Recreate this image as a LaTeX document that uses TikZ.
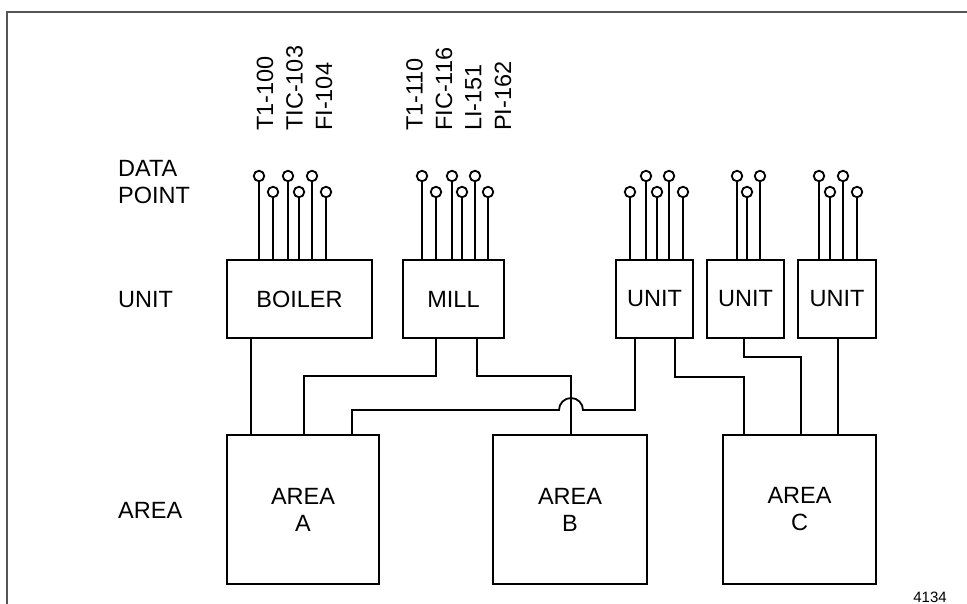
\documentclass[tikz,border=0pt]{standalone}
\usepackage{fontspec}
\setmainfont{Liberation Sans}
\usetikzlibrary{positioning,calc}
\definecolor{cInk}{HTML}{000000}
\definecolor{cFrame}{HTML}{555555}
\newcommand{\lbfont}{\fontsize{23.5}{27}\selectfont}
\tikzset{
  unitbox/.style={draw=cInk,line width=1.8pt,minimum height=78pt,inner sep=0pt,font=\lbfont},
  areabox/.style={draw=cInk,line width=1.8pt,minimum height=149pt,inner sep=0pt,align=center,font=\lbfont},
  dp/.style={circle,draw=cInk,line width=1.8pt,minimum size=10.5pt,inner sep=0pt},
  wire/.style={cInk,line width=1.8pt},
  tagtxt/.style={rotate=90,anchor=west,inner sep=0pt,font=\lbfont},
  lvl/.style={anchor=west,inner sep=0pt,align=left,font=\lbfont},
}

\begin{document}
\begin{tikzpicture}[x=1pt,y=-1pt]
  \useasboundingbox (0,0) rectangle (967,604);
  \draw[cFrame,line width=1.2pt] (967,12) -- (7,12) -- (7,604);
  % levels
  \node[lvl] (lpoint) at (118,182) {DATA\\POINT};
  \node[lvl] (lunit) at (118,300) {UNIT};
  \node[lvl] (larea) at (118,510) {AREA};
  % units
  \node[unitbox,minimum width=145pt] (boiler) at (299.5,299) {BOILER};
  \node[unitbox,minimum width=101pt] (mill) at (453.5,299) {MILL};
  \node[unitbox,minimum width=77pt] (u1) at (654.5,299) {UNIT};
  \node[unitbox,minimum width=77pt] (u2) at (745.5,299) {UNIT};
  \node[unitbox,minimum width=78pt] (u3) at (837,299) {UNIT};
  % areas
  \node[areabox,minimum width=152pt] (areaA) at (303,509.5) {AREA\\A};
  \node[areabox,minimum width=154pt] (areaB) at (570,509.5) {AREA\\B};
  \node[areabox,minimum width=153pt] (areaC) at (799.5,509.5) {AREA\\C};
  % tag names
  \foreach \x/\t [count=\i] in {265/T1-100,294.5/TIC-103,324/FI-104}
    \node[tagtxt] (tb\i) at (\x,131) {\t};
  \foreach \x/\t [count=\i] in {414.5/T1-110,444/FIC-116,473.5/LI-151,503/PI-162}
    \node[tagtxt] (tm\i) at (\x,131) {\t};
  % data points
  \foreach \bx/\pts in {boiler/{259/176,273/192,288/176,299/192,312/176,326/192},
                        mill/{422/176,436/192,452/176,462/192,475/176,488/192},
                        u1/{630/192,646/176,657/192,669/176,683/192},
                        u2/{737/176,747/192,760/176},
                        u3/{819/176,830/192,843/176,857/192}}
    \foreach \x/\y in \pts {
      \node[dp] (\bx-\x) at (\x,\y) {};
      \draw[wire] (\bx-\x.south) -- (\bx-\x.south |- \bx.north);
    }
  % links unit -> area
  \draw[wire] (boiler.south -| 251,0) -- (areaA.north -| 251,0);
  \draw[wire] (mill.south -| 436,0) -- (436,376) -- (304,376) -- (areaA.north -| 304,0);
  \draw[wire] (mill.south -| 477,0) -- (477,376) -- (571,376) -- (areaB.north -| 571,0);
  \draw[wire] (u1.south -| 635,0) -- (635,410) -- (583,410)
    arc[start angle=0,end angle=180,radius=12pt] -- (352,410) -- (areaA.north -| 352,0);
  \draw[wire] (u1.south -| 675,0) -- (675,377) -- (744,377) -- (areaC.north -| 744,0);
  \draw[wire] (u2.south -| 744,0) -- (744,357) -- (801,357) -- (areaC.north -| 801,0);
  \draw[wire] (u3.south -| 838,0) -- (areaC.north -| 838,0);
  \node[font=\fontsize{15}{17}\selectfont,inner sep=0pt] (fig) at (930,597) {4134};
\end{tikzpicture}
\end{document}
